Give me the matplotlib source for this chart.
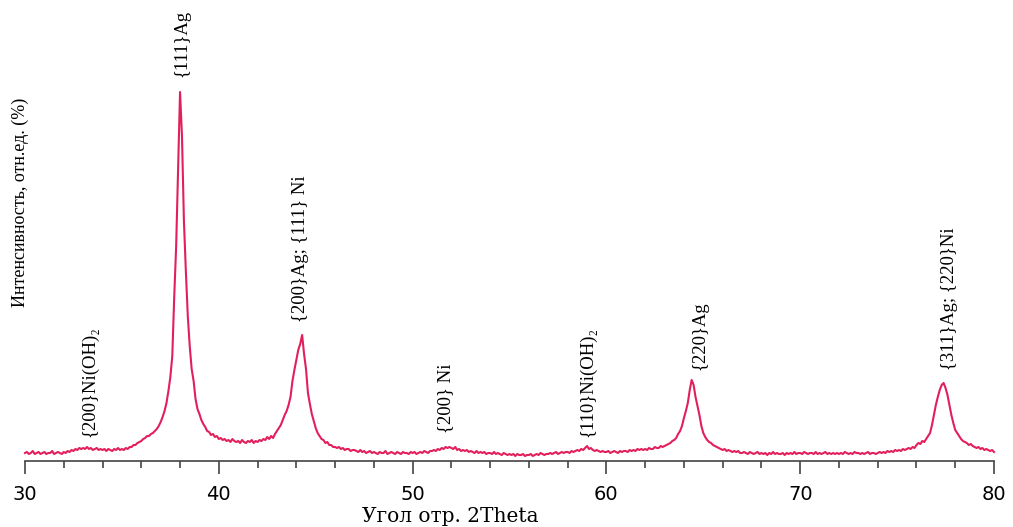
import matplotlib
matplotlib.use("Agg")
import matplotlib.pyplot as plt
from matplotlib.ticker import MultipleLocator
import numpy as np

# XRD scan, 2Theta 30..80 deg, step 0.1 deg (one row = one degree)
counts_rows = [
    [8, 9, 7, 8, 10, 7, 8, 9, 7, 8],            # 30
    [9, 7, 8, 8, 10, 7, 8, 9, 8, 7],            # 31
    [9, 8, 10, 9, 11, 10, 12, 11, 13, 12],      # 32
    [13, 12, 14, 12, 13, 11, 12, 13, 11, 12],   # 33
    [11, 12, 10, 12, 11, 10, 12, 11, 13, 11],   # 34
    [12, 11, 13, 12, 14, 14, 16, 16, 18, 19],   # 35
    [20, 22, 23, 25, 25, 27, 28, 30, 32, 35],   # 36
    [39, 44, 50, 58, 70, 84, 105, 164, 215, 290],   # 37
    [369, 325, 240, 190, 145, 115, 92, 80, 62, 52],  # 38
    [47, 41, 37, 34, 30, 29, 26, 27, 24, 25],   # 39
    [22, 23, 21, 22, 20, 21, 19, 22, 20, 19],   # 40
    [20, 18, 21, 19, 18, 20, 19, 21, 18, 20],   # 41
    [19, 21, 20, 22, 21, 24, 22, 25, 23, 27],   # 42
    [30, 33, 36, 41, 46, 50, 56, 64, 80, 91],   # 43
    [101, 111, 117, 126, 107, 92, 68, 57, 47, 40],  # 44
    [33, 28, 25, 22, 21, 18, 19, 16, 16, 14],   # 45
    [14, 13, 14, 12, 13, 11, 12, 12, 10, 11],   # 46
    [11, 10, 9, 11, 9, 10, 8, 9, 10, 8],        # 47
    [9, 8, 7, 9, 8, 8, 10, 7, 8, 9],            # 48
    [8, 7, 9, 8, 7, 9, 8, 8, 7, 9],             # 49
    [8, 9, 7, 8, 9, 8, 10, 9, 8, 10],           # 50
    [10, 11, 10, 12, 11, 13, 12, 14, 13, 14],   # 51
    [13, 12, 14, 11, 12, 10, 11, 10, 11, 9],    # 52
    [10, 9, 8, 10, 8, 9, 8, 9, 7, 8],           # 53
    [8, 7, 9, 7, 8, 7, 6, 8, 7, 6],             # 54
    [7, 6, 7, 5, 7, 6, 6, 7, 5, 6],             # 55
    [6, 7, 5, 6, 7, 6, 8, 7, 6, 7],             # 56
    [7, 8, 7, 8, 9, 7, 8, 9, 8, 9],             # 57
    [9, 8, 10, 9, 10, 11, 10, 12, 11, 13],      # 58
    [15, 12, 13, 11, 10, 11, 10, 9, 10, 9],     # 59
    [9, 10, 8, 9, 10, 9, 8, 10, 9, 10],         # 60
    [10, 9, 11, 10, 11, 10, 12, 11, 12, 11],    # 61
    [12, 11, 13, 12, 12, 14, 13, 13, 15, 14],   # 62
    [15, 16, 17, 18, 20, 21, 23, 27, 30, 35],   # 63
    [43, 50, 58, 71, 81, 76, 64, 55, 46, 35],   # 64
    [28, 24, 21, 19, 18, 16, 15, 14, 13, 12],   # 65
    [11, 12, 10, 11, 10, 9, 10, 9, 10, 8],      # 66
    [8, 9, 8, 7, 9, 8, 7, 8, 9, 7],             # 67
    [8, 7, 8, 6, 8, 7, 9, 7, 8, 7],             # 68
    [7, 8, 6, 8, 7, 8, 7, 9, 7, 8],             # 69
    [8, 7, 9, 8, 7, 8, 8, 7, 9, 7],             # 70
    [8, 7, 8, 9, 7, 8, 7, 8, 7, 8],             # 71
    [7, 8, 7, 9, 8, 7, 8, 7, 9, 8],             # 72
    [8, 7, 8, 7, 8, 9, 7, 8, 8, 7],             # 73
    [8, 9, 8, 9, 8, 10, 9, 10, 9, 11],          # 74
    [10, 11, 10, 12, 11, 12, 13, 12, 14, 13],   # 75
    [16, 18, 17, 20, 19, 22, 25, 28, 36, 46],   # 76
    [56, 64, 71, 76, 78, 73, 66, 56, 46, 38],   # 77
    [31, 28, 25, 22, 20, 19, 18, 16, 17, 15],   # 78
    [14, 13, 14, 12, 13, 11, 12, 11, 10, 11],   # 79
]
counts_last = [9]  # 80.0

peak_labels = ["{200}Ni(OH)\u2082", "{111}Ag", "{200}Ag; {111} Ni", "{200} Ni",
               "{110}Ni(OH)\u2082", "{220}Ag", "{311}Ag; {220}Ni"]
peak_pos = [33.35, 38.1, 44.2, 51.7, 59.05, 64.83, 77.7]
peak_lab_y = [6.5, 104, 37.7, 7.6, 6.5, 24.7, 24.7]

counts = np.array([v for row in counts_rows for v in row] + counts_last, dtype=float)
two_theta = np.linspace(30, 80, len(counts))
intensity = counts / counts.max() * 100

fig = plt.figure(figsize=(10.13, 5.27), dpi=100)
ax = fig.add_axes([25 / 1013, 66 / 527, 969 / 1013, 369 / 527])

ax.plot(two_theta, intensity, color="#e21f5c", lw=1.5, clip_on=False)
ax.set_xlim(30, 80)
ax.set_ylim(0, 100)

for s in ["left", "right", "top"]:
    ax.spines[s].set_visible(False)
ax.spines["bottom"].set_color("#444444")
ax.spines["bottom"].set_linewidth(1.2)
ax.set_yticks([])
ax.xaxis.set_major_locator(MultipleLocator(10))
ax.xaxis.set_minor_locator(MultipleLocator(2))
ax.tick_params(axis="x", which="major", direction="out", length=9, width=1.2,
               color="#444444", pad=8, labelsize=14)
ax.tick_params(axis="x", which="minor", direction="out", length=5, width=1.2,
               color="#444444")
for lab in ax.get_xticklabels():
    lab.set_fontfamily("DejaVu Sans")

serif = ["Liberation Serif"]
for txt, xp, yp in zip(peak_labels, peak_pos, peak_lab_y):
    ax.text(xp, yp, txt, rotation=90, ha="center", va="bottom",
            family=serif, fontsize=13.5)

fig.text(20 / 1013, 1 - 202 / 527, "Интенсивность, отн.ед. (%)", rotation=90,
         ha="center", va="center", family=serif, fontsize=13)
fig.text(450 / 1013, 1 - 517 / 527, "Угол отр. 2Theta", ha="center", va="center",
         family=["DejaVu Serif"], fontsize=14.5)

fig.savefig("out.png", dpi=100)
